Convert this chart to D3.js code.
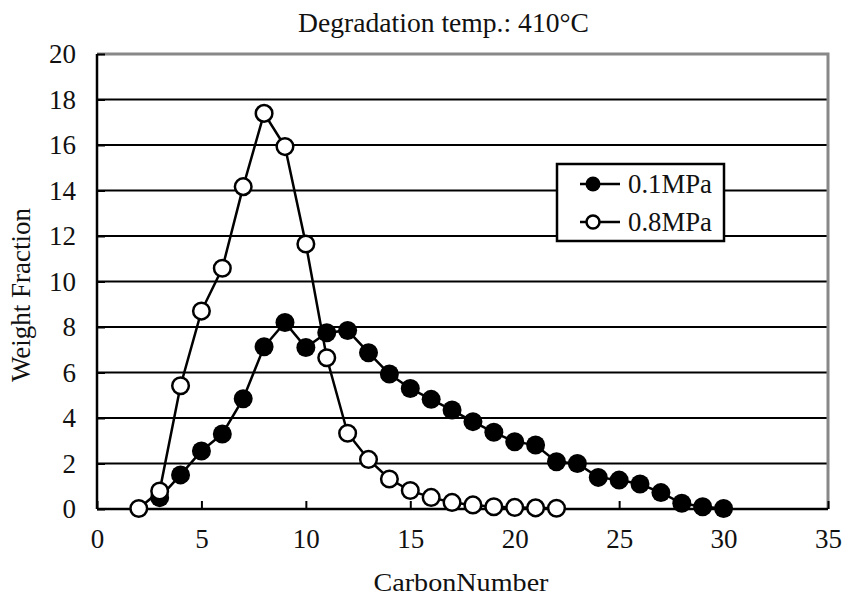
<!DOCTYPE html>
<html>
<head>
<meta charset="utf-8">
<script src="https://cdn.jsdelivr.net/npm/d3@7"></script>
<style>
  html, body { margin: 0; padding: 0; background: #fff; }
  svg text { font-family: "Liberation Serif", "Times New Roman", serif; fill: #111; }
</style>
</head>
<body>
<svg id="chart" width="846" height="598"></svg>
<script>
// ---- data ----
const title = "Degradation temp.: 410\u00B0C";
const xLabel = "CarbonNumber";
const yLabel = "Weight Fraction";
const seriesNames = ["0.1MPa", "0.8MPa"];

const carbon01 = [3,4,5,6,7,8,9,10,11,12,13,14,15,16,17,18,19,20,21,22,23,24,25,26,27,28,29,30];
const weight01 = [0.5,1.5,2.55,3.3,4.85,7.13,8.2,7.1,7.75,7.85,6.87,5.93,5.3,4.82,4.35,3.84,3.37,2.96,2.81,2.08,2.0,1.39,1.27,1.1,0.72,0.25,0.1,0.02];

const carbon08 = [2,3,4,5,6,7,8,9,10,11,12,13,14,15,16,17,18,19,20,21,22];
const weight08 = [0.02,0.79,5.42,8.7,10.58,14.17,17.39,15.93,11.65,6.65,3.33,2.18,1.32,0.81,0.51,0.29,0.18,0.1,0.07,0.05,0.03];

const xTicks = [0,5,10,15,20,25,30,35];
const yTicks = [0,2,4,6,8,10,12,14,16,18,20];

const FONT = "'Liberation Serif', 'Times New Roman', serif";

// ---- layout ----
const svg = d3.select("#chart");
const L = 97, R = 828, T = 54, B = 509;
const x = d3.scaleLinear().domain([0,35]).range([L,R]);
const y = d3.scaleLinear().domain([0,20]).range([B,T]);

// gridlines
svg.append("g").selectAll("line")
  .data(yTicks.filter(d => d > 0 && d < 20))
  .join("line")
  .attr("x1", L).attr("x2", R)
  .attr("y1", d => y(d)).attr("y2", d => y(d))
  .attr("stroke", "#000").attr("stroke-width", 2.2);

// gray top & right border
svg.append("path")
  .attr("d", `M${L},${T}H${R}V${B}`)
  .attr("fill", "none").attr("stroke", "#888").attr("stroke-width", 3);

// axes
const xAxis = d3.axisBottom(x).tickValues(xTicks).tickSize(-8).tickPadding(20).tickFormat(d3.format("d"));
const gx = svg.append("g").attr("transform", `translate(0,${B})`).call(xAxis)
  .attr("font-family", FONT);
gx.select(".domain").attr("stroke", "#000").attr("stroke-width", 2.5).attr("d", `M${L},0H${R}`);
gx.selectAll(".tick line").attr("stroke", "#000").attr("stroke-width", 2);
gx.selectAll(".tick text").attr("font-size", 27).attr("font-family", FONT).attr("dy", "0.71em").attr("fill", "#111");

const yAxis = d3.axisLeft(y).tickValues(yTicks).tickSize(-8).tickPadding(21).tickFormat(d3.format("d"));
const gy = svg.append("g").attr("transform", `translate(${L},0)`).call(yAxis)
  .attr("font-family", FONT);
gy.select(".domain").attr("stroke", "#000").attr("stroke-width", 2.5).attr("d", `M0,${B}V${T}`);
gy.selectAll(".tick line").attr("stroke", "#000").attr("stroke-width", 2);
gy.selectAll(".tick text").attr("font-size", 27).attr("font-family", FONT).attr("fill", "#111");

// lines
const line = d3.line().x(d => x(d[0])).y(d => y(d[1]));
const s1 = carbon01.map((c,i) => [c, weight01[i]]);
const s2 = carbon08.map((c,i) => [c, weight08[i]]);
svg.append("path").datum(s1).attr("d", line).attr("fill","none").attr("stroke","#000").attr("stroke-width",2.5);
svg.append("path").datum(s2).attr("d", line).attr("fill","none").attr("stroke","#000").attr("stroke-width",2.5);

// markers
svg.append("g").selectAll("circle").data(s1).join("circle")
  .attr("cx", d => x(d[0])).attr("cy", d => y(d[1])).attr("r", 9.5)
  .attr("fill", "#000");
svg.append("g").selectAll("circle").data(s2).join("circle")
  .attr("cx", d => x(d[0])).attr("cy", d => y(d[1])).attr("r", 8.3)
  .attr("fill", "#fff").attr("stroke", "#000").attr("stroke-width", 2.5);

// legend
const lg = svg.append("g");
lg.append("rect").attr("x", 557).attr("y", 164).attr("width", 167).attr("height", 77)
  .attr("fill", "#fff").attr("stroke", "#000").attr("stroke-width", 2.5);
const rows = [184, 222];
seriesNames.forEach((name, i) => {
  lg.append("line").attr("x1", 580).attr("x2", 620).attr("y1", rows[i]).attr("y2", rows[i])
    .attr("stroke", "#000").attr("stroke-width", 2.5);
  lg.append("circle").attr("cx", 593).attr("cy", rows[i]).attr("r", i === 0 ? 7.5 : 6.5)
    .attr("fill", i === 0 ? "#000" : "#fff").attr("stroke", "#000").attr("stroke-width", i === 0 ? 0 : 2.5);
  lg.append("text").attr("x", 628).attr("y", rows[i]).attr("dy", "0.35em").attr("font-family", FONT)
    .attr("font-size", 27).attr("textLength", 84).attr("lengthAdjust", "spacingAndGlyphs").text(name);
});

// titles
svg.append("text").attr("x", 443.5).attr("y", 32).attr("text-anchor", "middle").attr("font-family", FONT)
  .attr("font-size", 27).attr("textLength", 291).attr("lengthAdjust", "spacingAndGlyphs").text(title);
svg.append("text").attr("x", 461).attr("y", 591).attr("text-anchor", "middle").attr("font-family", FONT)
  .attr("font-size", 26).attr("textLength", 175).attr("lengthAdjust", "spacingAndGlyphs").text(xLabel);
svg.append("text").attr("transform", "translate(30,295) rotate(-90)").attr("text-anchor", "middle").attr("font-family", FONT)
  .attr("font-size", 27).attr("textLength", 174).attr("lengthAdjust", "spacingAndGlyphs").text(yLabel);
</script>
</body>
</html>
